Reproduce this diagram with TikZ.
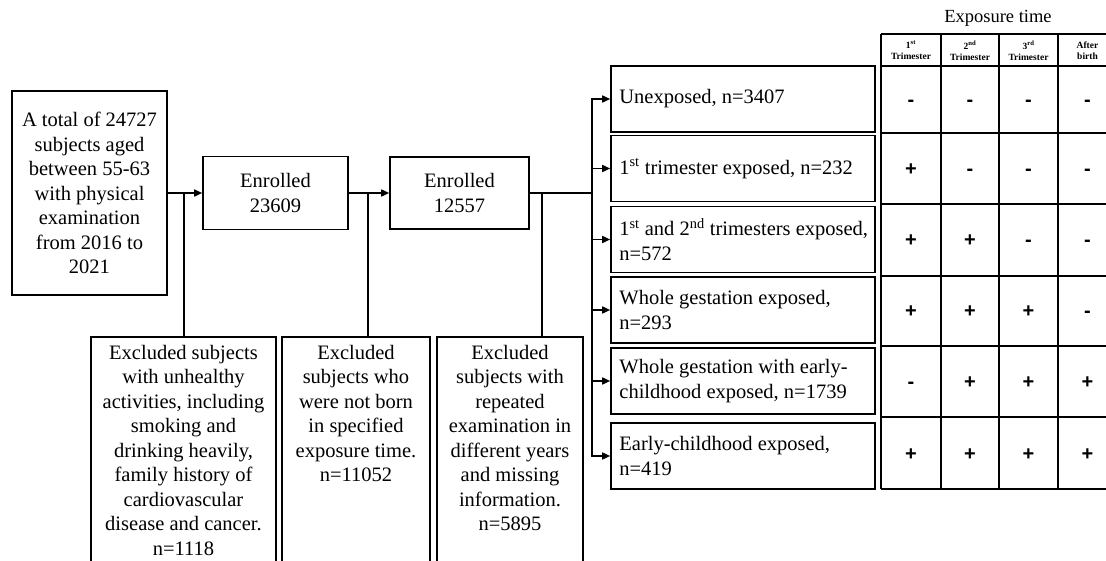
\documentclass[tikz,border=0pt]{standalone}
\usepackage{fontspec}
\setmainfont{Liberation Serif}
\newfontfamily\signfont{Liberation Sans}
\usetikzlibrary{arrows.meta}
\begin{document}
\begin{tikzpicture}[x=1pt,y=-1pt,
  every node/.style={font=\fontsize{20.5}{24.5}\selectfont},
  box/.style={draw, line width=1.6pt, inner sep=0pt, align=center},
  gbox/.style={draw, line width=1.6pt, inner sep=0pt, minimum width=264pt, minimum height=66pt},
  gtext/.style={inner sep=0pt, align=left, anchor=west},
  exbox/.style={draw, line width=1.6pt, inner sep=0pt, minimum height=250pt, anchor=north},
  extext/.style={inner sep=0pt, align=center, anchor=north},
  conn/.style={line width=1.6pt},
  arr/.style={line width=1.6pt, -{Triangle[length=8pt,width=7pt]}},
  tbl/.style={line width=1.6pt},
  hdr/.style={font=\fontsize{9.5}{11}\selectfont\bfseries, align=center, inner sep=0pt},
  sign/.style={font=\signfont\fontsize{20}{20}\selectfont\bfseries, inner sep=0pt, anchor=base}
]
\useasboundingbox (0,0) rectangle (1106,561);
\clip (0,0) rectangle (1106,561);

% main flow
\node[box, minimum width=155pt, minimum height=204pt] (total) at (89.5,193)
  {A total of 24727\\subjects aged\\between 55-63\\with physical\\examination\\from 2016 to\\2021};
\node[box, minimum width=145pt, minimum height=73pt] (en1) at (275.5,193) {Enrolled\\23609};
\node[box, minimum width=139pt, minimum height=72pt] (en2) at (459.5,193) {Enrolled\\12557};

\draw[arr] (total.east) -- (en1.west);
\draw[arr] (en1.east) -- (en2.west);
\coordinate (j1) at (184,193);
\coordinate (j2) at (368,193);
\coordinate (j3) at (542,193);
\coordinate (bus) at (592,193);
\draw[conn] (en2.east) -- (bus);

% excluded boxes
\node[exbox, minimum width=185pt] (ex1) at (183.5,336) {};
\node[exbox, minimum width=148pt] (ex2) at (356,336) {};
\node[exbox, minimum width=146pt] (ex3) at (510,336) {};
\node[extext] (t1) at ([yshift=-9pt]ex1.north)
  {Excluded subjects\\with unhealthy\\activities, including\\smoking and\\drinking heavily,\\family history of\\cardiovascular\\disease and cancer.\\n=1118};
\node[extext] (t2) at ([yshift=-9pt]ex2.north)
  {Excluded\\subjects who\\were not born\\in specified\\exposure time.\\n=11052};
\node[extext] (t3) at ([yshift=-9pt]ex3.north)
  {Excluded\\subjects with\\repeated\\examination in\\different years\\and missing\\information.\\n=5895};
\draw[conn] (j1) -- (j1 |- ex1.north);
\draw[conn] (j2) -- (j2 |- ex2.north);
\draw[conn] (j3) -- (j3 |- ex3.north);

% groups
\node[gbox] (g1) at (743,99) {};
\node[gbox] (g2) at (743,168.5) {};
\node[gbox] (g3) at (743,239.5) {};
\node[gbox] (g4) at (743,310) {};
\node[gbox] (g5) at (743,381) {};
\node[gbox] (g6) at (743,456) {};
\node[gtext] (gt1) at ([xshift=9pt]g1.west) {Unexposed, n=3407};
\node[gtext] (gt2) at ([xshift=9pt]g2.west) {1\textsuperscript{st} trimester exposed, n=232};
\node[gtext] (gt3) at ([xshift=9pt]g3.west) {1\textsuperscript{st} and 2\textsuperscript{nd} trimesters exposed,\\n=572};
\node[gtext] (gt4) at ([xshift=9pt]g4.west) {Whole gestation exposed,\\n=293};
\node[gtext] (gt5) at ([xshift=9pt]g5.west) {Whole gestation with early-\\childhood exposed, n=1739};
\node[gtext] (gt6) at ([xshift=9pt]g6.west) {Early-childhood exposed,\\n=419};
\foreach \g in {g1,g2,g3,g4,g5,g6}{
  \draw[arr] (bus) |- (\g.west);
}

% table
\node[font=\fontsize{18.5}{20}\selectfont, inner sep=0pt] (exptime) at (998,18) {Exposure time};
\foreach \yy in {34,66,133,204,276,346,417,489}{
  \draw[tbl] (881,\yy) -- (1120,\yy);
}
\foreach \xx in {881,941,999,1058,1117}{
  \draw[tbl] (\xx,34) -- (\xx,489);
}
\node[hdr] (h1) at (911,50.5) {1\textsuperscript{st}\\Trimester};
\node[hdr] (h2) at (970,50.5) {2\textsuperscript{nd}\\Trimester};
\node[hdr] (h3) at (1028.5,50.5) {3\textsuperscript{rd}\\Trimester};
\node[hdr] (h4) at (1087.5,50.5) {After\\birth};

\foreach \r/\yc/\a/\b/\c/\d in {1/106.5/-/-/-/-, 2/175.5/+/-/-/-, 3/247/+/+/-/-, 4/318/+/+/+/-, 5/388.5/-/+/+/+, 6/460/+/+/+/+}{
  \node[sign] (s\r a) at (911,\yc) {\a};
  \node[sign] (s\r b) at (970,\yc) {\b};
  \node[sign] (s\r c) at (1028.5,\yc) {\c};
  \node[sign] (s\r d) at (1087.5,\yc) {\d};
}
\end{tikzpicture}
\end{document}
